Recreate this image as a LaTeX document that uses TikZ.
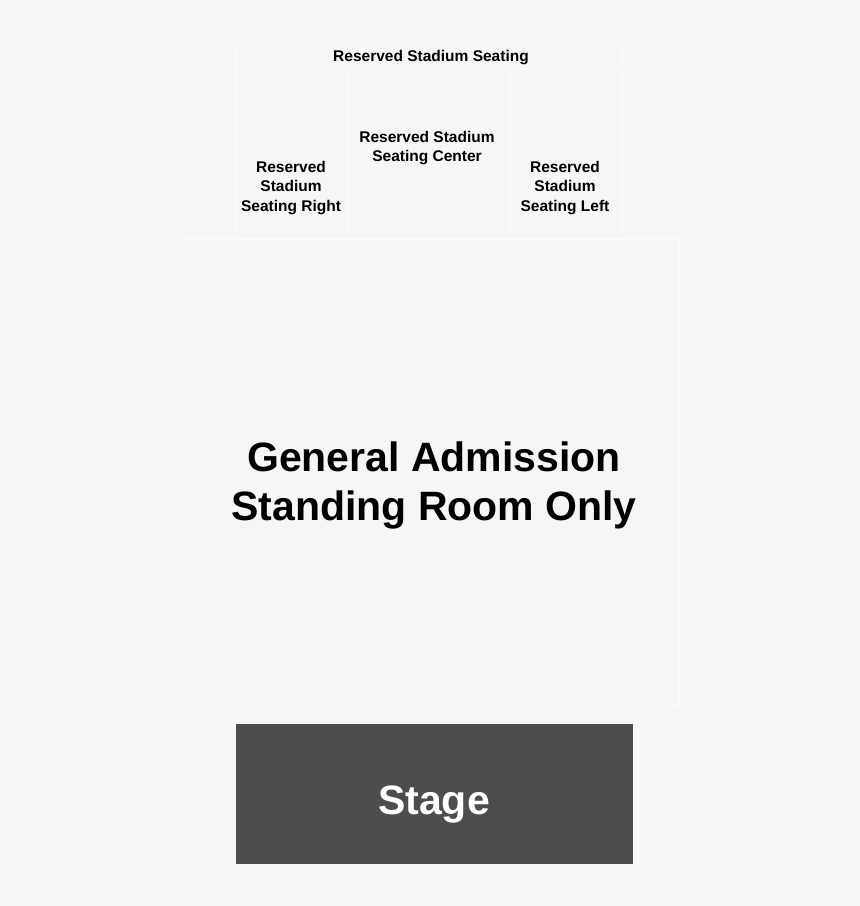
\documentclass[tikz,border=0pt]{standalone}
\usepackage{fontspec}
\setmainfont{Liberation Sans}
\definecolor{bgc}{HTML}{F6F6F6}
\definecolor{stagec}{HTML}{4D4D4D}
\definecolor{edgec}{HTML}{FBFBFB}
\begin{document}
\begin{tikzpicture}[x=1pt,y=-1pt,
  zone/.style={draw=edgec,line width=0.8pt,fill=bgc},
  small/.style={font=\bfseries\fontsize{15.5}{19.5}\selectfont,align=center,text=black,inner sep=0pt},
  big/.style={font=\bfseries\fontsize{41}{49}\selectfont,align=center,inner sep=0pt}]
\fill[bgc] (0,0) rectangle (860,906);
\useasboundingbox (0,0) rectangle (860,906);
% boxes
\draw[zone] (236,42) rectangle (622,69);
\draw[zone] (236,69) rectangle (347,238);
\draw[zone] (347,69) rectangle (510,238);
\draw[zone] (510,69) rectangle (622,238);
\draw[zone] (181,239) rectangle (679,705);
\fill[stagec] (236,724) rectangle (633,864);
% labels
\node[small] (thdr) at (431,58) {Reserved Stadium Seating};
\node[small] (tright) at (291,188) {Reserved\\Stadium\\Seating Right};
\node[small] (tcenter) at (427,148) {Reserved Stadium\\Seating Center};
\node[small] (tleft) at (565,188) {Reserved\\Stadium\\Seating Left};
\node[big] (tga) at (434,485) {General Admission\\Standing Room Only};
\node[big,text=white] (tstage) at (434,805) {Stage};
\end{tikzpicture}
\end{document}
